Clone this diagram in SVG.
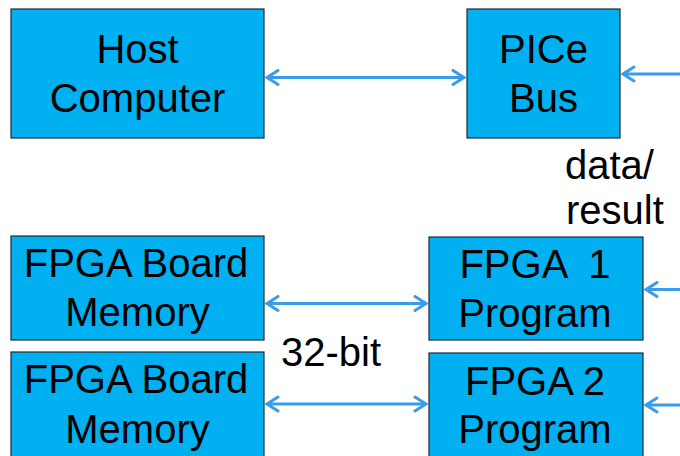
<svg xmlns="http://www.w3.org/2000/svg" width="680" height="456" viewBox="0 0 680 456">
  <style>
    .box { fill: #00B0F0; stroke: #1f2a30; stroke-width: 1.2; }
    .lbl { font-family: "Liberation Sans", Arial, sans-serif; font-size: 40px; fill: #000; text-anchor: middle; }
    .free { font-family: "Liberation Sans", Arial, sans-serif; font-size: 40px; fill: #000; }
    .conn { stroke: #3A9BEB; stroke-width: 3; fill: none; }
  </style>
  <defs>
    <marker id="ah" markerUnits="userSpaceOnUse" markerWidth="16" markerHeight="18" viewBox="-14 -9 16 18" refX="0" refY="0" orient="auto-start-reverse">
      <path d="M-11,-7 L0,0 L-11,7" fill="none" stroke="#3A9BEB" stroke-width="3" stroke-linecap="round" stroke-linejoin="miter"/>
    </marker>
  </defs>
  <rect width="680" height="456" fill="#ffffff"/>

  <g id="connectors">
    <line class="conn" x1="267" y1="77.5" x2="464" y2="77.5" marker-start="url(#ah)" marker-end="url(#ah)"/>
    <line class="conn" x1="680" y1="74" x2="623" y2="74" marker-end="url(#ah)"/>
    <line class="conn" x1="267" y1="303.5" x2="426" y2="303.5" marker-start="url(#ah)" marker-end="url(#ah)"/>
    <line class="conn" x1="267" y1="404" x2="426" y2="404" marker-start="url(#ah)" marker-end="url(#ah)"/>
    <line class="conn" x1="680" y1="289.5" x2="646" y2="289.5" marker-end="url(#ah)"/>
    <line class="conn" x1="680" y1="405" x2="646" y2="405" marker-end="url(#ah)"/>
  </g>

  <g id="host">
    <rect class="box" x="11" y="9" width="253" height="129"/>
    <text class="lbl" x="137.5" y="63">Host</text>
    <text class="lbl" x="137.5" y="112">Computer</text>
  </g>

  <g id="pcie">
    <rect class="box" x="467" y="9" width="153" height="129"/>
    <text class="lbl" x="543.5" y="63">PICe</text>
    <text class="lbl" x="543.5" y="112">Bus</text>
  </g>

  <g id="mem1">
    <rect class="box" x="11" y="236" width="253" height="104"/>
    <text class="lbl" x="136" y="277">FPGA Board</text>
    <text class="lbl" x="137.5" y="326">Memory</text>
  </g>

  <g id="mem2">
    <rect class="box" x="11" y="352" width="253" height="110"/>
    <text class="lbl" x="136" y="393">FPGA Board</text>
    <text class="lbl" x="137.5" y="443">Memory</text>
  </g>

  <g id="fpga1">
    <rect class="box" x="429" y="237" width="214" height="103"/>
    <text class="lbl" x="535" y="278" xml:space="preserve">FPGA  1</text>
    <text class="lbl" x="535" y="327">Program</text>
  </g>

  <g id="fpga2">
    <rect class="box" x="429" y="353" width="214" height="110"/>
    <text class="lbl" x="535" y="395">FPGA 2</text>
    <text class="lbl" x="535" y="443">Program</text>
  </g>

  <g id="labels">
    <text class="free" x="281" y="366">32-bit</text>
    <text class="free" x="565" y="179">data/</text>
    <text class="free" x="566" y="224">result</text>
  </g>
</svg>
